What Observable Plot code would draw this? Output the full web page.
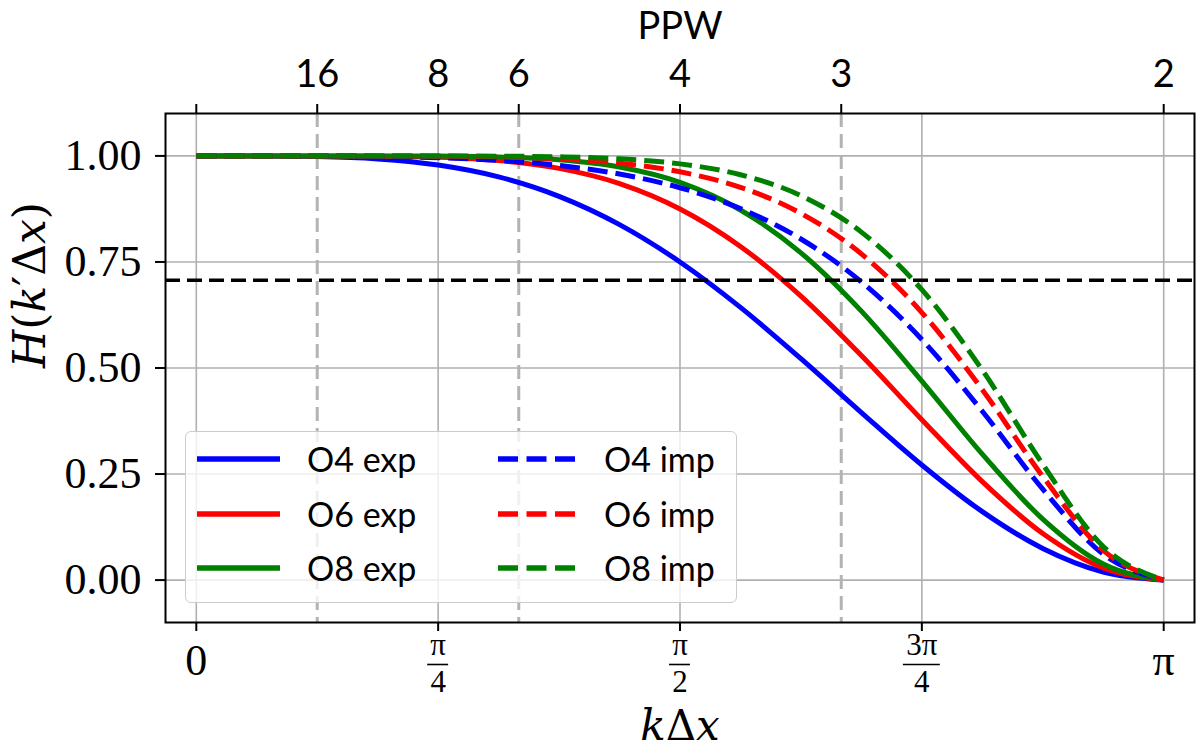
<!DOCTYPE html>
<html>
<head>
<meta charset="utf-8">
<script src="https://cdn.jsdelivr.net/npm/d3@7"></script>
<script src="https://cdn.jsdelivr.net/npm/@observablehq/plot@0.6"></script>
<style>
  html, body { margin: 0; padding: 0; background: #fff; }
  #wrap { position: relative; width: 1200px; height: 751px; }
</style>
</head>
<body>
<div id="wrap"></div>
<script>
// ---------- data ----------
const kValues = [0, 0.19635, 0.39270, 0.58905, 0.78540, 0.98175, 1.17810, 1.37445, 1.57080,
                 1.76715, 1.96350, 2.15984, 2.35619, 2.55254, 2.74889, 2.94524, 3.14159];

const hO4exp = [1, 0.99991, 0.99855, 0.99290, 0.97855, 0.95062, 0.90473, 0.83803, 0.75,
                0.64294, 0.52205, 0.39505, 0.27145, 0.16143, 0.07467, 0.01912, 0];
const hO6exp = [1, 1.0, 0.99994, 0.99940, 0.99686, 0.98903, 0.97059, 0.93481, 0.875,
                0.78664, 0.66957, 0.52948, 0.37814, 0.23209, 0.10989, 0.02855, 0];
const hO8exp = [1, 1.0, 1.0, 0.99995, 0.99954, 0.99756, 0.99092, 0.97377, 0.9375,
                0.87251, 0.77156, 0.63404, 0.46921, 0.29680, 0.14377, 0.03788, 0];
const hO4imp = [1, 0.99998, 0.99974, 0.99865, 0.99570, 0.98934, 0.97746, 0.95725, 0.925,
                0.87594, 0.80415, 0.70302, 0.56722, 0.39811, 0.21423, 0.06121, 0];
const hO6imp = [1, 1.0, 0.99999, 0.99989, 0.99937, 0.99763, 0.99304, 0.98279, 0.9625,
                0.92587, 0.86460, 0.76901, 0.63060, 0.44883, 0.24414, 0.07023, 0];
const hO8imp = [1, 1.0, 1.0, 0.99999, 0.99991, 0.99947, 0.99785, 0.99308, 0.98125,
                0.95570, 0.90640, 0.82034, 0.68469, 0.49528, 0.27291, 0.07917, 0];

const seriesNames  = ["O4 exp", "O6 exp", "O8 exp", "O4 imp", "O6 imp", "O8 imp"];
const seriesColors = ["#0000ff", "#ff0000", "#008000", "#0000ff", "#ff0000", "#008000"];
const seriesDashed = [false, false, false, true, true, true];
const seriesValues = [hO4exp, hO6exp, hO8exp, hO4imp, hO6imp, hO8imp];

const cutoff = [0.7071];                 // horizontal black dashed line
const ppwDashed = [16, 6, 3];            // vertical gray dashed lines (PPW)
const ppwTicks = [Infinity, 16, 8, 6, 4, 3, 2];
const ppwTickLabels = ["", "16", "8", "6", "4", "3", "2"];

const xTickValues = [0, Math.PI / 4, Math.PI / 2, 3 * Math.PI / 4, Math.PI];
const xTickNumer = ["0", "π", "π", "3π", "π"];
const xTickDenom = ["", "4", "2", "4", ""];
const yTickValues = [0, 0.25, 0.5, 0.75, 1.0];

// ---------- build tables ----------
const seriesData = seriesValues.map((vals, i) =>
  kValues.map((k, j) => ({k, h: vals[j], series: seriesNames[i]})));
const xTicksTable = xTickValues.map((k, i) => ({k, num: xTickNumer[i], den: xTickDenom[i]}));
const xSingles = xTicksTable.filter(d => d.den === "");
const xFracs = xTicksTable.filter(d => d.den !== "");
const ppwTable = ppwTicks.map((p, i) => ({k: 2 * Math.PI / p, label: ppwTickLabels[i]}));

const serif = "'Liberation Serif', serif";
const mathSerif = "'DejaVu Serif', serif";
const sans = "Lato, 'Noto Sans', sans-serif";
const yDomain = [-0.1, 1.1];

const lineMarks = seriesData.map((data, i) =>
  Plot.line(data, {
    x: "k", y: "h",
    stroke: seriesColors[i],
    strokeWidth: 5,
    strokeDasharray: seriesDashed[i] ? "20,8" : undefined,
    strokeLinecap: "butt",
    curve: "monotone-x"
  }));

const plot = Plot.plot({
  width: 1200,
  height: 751,
  marginLeft: 165,
  marginRight: 6,
  marginTop: 113,
  marginBottom: 129,
  style: {background: "white", overflow: "visible", fontFamily: serif},
  x: {domain: [-0.1, Math.PI + 0.1]},
  y: {domain: yDomain},
  marks: [
    Plot.gridX({ticks: xTickValues, stroke: "#b0b0b0", strokeOpacity: 1, strokeWidth: 1.6}),
    Plot.gridY({ticks: yTickValues, stroke: "#b0b0b0", strokeOpacity: 1, strokeWidth: 1.6}),
    Plot.ruleX(ppwDashed, {x: p => 2 * Math.PI / p, stroke: "#b3b3b3", strokeWidth: 3, strokeDasharray: "14,7"}),
    ...lineMarks,
    Plot.ruleY(cutoff, {stroke: "black", strokeWidth: 3.5, strokeDasharray: "15,7"}),
    Plot.frame({stroke: "black", strokeWidth: 2}),
    // y axis
    Plot.axisY({ticks: yTickValues, tickFormat: d3.format(".2f"), tickSize: 10, tickPadding: 14,
                strokeWidth: 2, fontSize: 44, fontFamily: serif, label: null}),
    // bottom x axis ticks
    Plot.axisX({anchor: "bottom", ticks: xTickValues, tickFormat: () => "", tickSize: 9,
                strokeWidth: 2, label: null}),
    Plot.text(xSingles, {x: "k", text: "num", frameAnchor: "bottom", lineAnchor: "middle", dy: 38,
                         fontSize: 44, fontFamily: serif}),
    Plot.text(xFracs, {x: "k", text: "num", frameAnchor: "bottom", lineAnchor: "middle", dy: 23,
                       fontSize: 31, fontFamily: serif}),
    Plot.text(xFracs, {x: "k", text: "den", frameAnchor: "bottom", lineAnchor: "middle", dy: 60,
                       fontSize: 31, fontFamily: serif}),
    Plot.ruleY(xFracs, {y: yDomain[0], dy: 42,
                        x1: d => d.k - (d.num.length > 1 ? 0.06 : 0.034),
                        x2: d => d.k + (d.num.length > 1 ? 0.06 : 0.034),
                        stroke: "black", strokeWidth: 1.6}),
    // top PPW axis
    Plot.axisX(ppwTable.map(d => d.k), {anchor: "top", tickSize: 10, tickPadding: 17, strokeWidth: 2,
                tickFormat: (k, i) => ppwTable[i].label, fontSize: 38, fontFamily: sans, label: null}),
    Plot.text(["PPW"], {text: d => d, frameAnchor: "top", lineAnchor: "middle", dy: -87,
                        fontSize: 38, fontFamily: sans}),
    // axis labels
    Plot.text(["H(k′Δx)"], {text: d => d, frameAnchor: "left", lineAnchor: "middle", dx: -135, rotate: -90,
                             fontSize: 44, fontFamily: mathSerif}),
    Plot.text(["kΔx"], {text: d => d, frameAnchor: "bottom", lineAnchor: "middle", dy: 104,
                        fontSize: 42, fontFamily: mathSerif})
  ]
});

document.getElementById("wrap").appendChild(plot);

// mixed italic / upright math labels
function mathify(content, parts) {
  d3.select(plot).selectAll("text")
    .filter(function () { return this.textContent === content; })
    .each(function () {
      const t = d3.select(this);
      t.text(null);
      parts.forEach(([s, it]) => t.append("tspan")
        .style("font-style", it ? "italic" : "normal")
        .text(s));
    });
}
mathify("H(k′Δx)", [["H", 1], ["(", 0], ["k", 1], ["′", 0], ["Δ", 0], ["x", 1], [")", 0]]);
mathify("kΔx", [["k", 1], ["Δ", 0], ["x", 1]]);

// ---------- legend overlay ----------
const legend = d3.select("#wrap").append("div")
  .style("position", "absolute").style("left", "185px").style("top", "431px")
  .style("width", "552px").style("height", "172px")
  .style("box-sizing", "border-box")
  .style("background", "rgba(255,255,255,0.8)")
  .style("border", "1.5px solid #cccccc").style("border-radius", "6px");
const lsvg = legend.append("svg").attr("width", 552).attr("height", 172)
  .style("position", "absolute").style("left", "-1.5px").style("top", "-1.5px");
const rowY = [28, 83, 137];
const colX = [12, 313];
const textX = [122, 419];
seriesNames.forEach((name, i) => {
  const col = Math.floor(i / 3), row = i % 3;
  lsvg.append("line")
    .attr("x1", colX[col]).attr("x2", colX[col] + (seriesDashed[i] ? 77 : 83))
    .attr("y1", rowY[row]).attr("y2", rowY[row])
    .attr("stroke", seriesColors[i]).attr("stroke-width", 5.5)
    .attr("stroke-dasharray", seriesDashed[i] ? "20,8.5" : null);
  lsvg.append("text")
    .attr("x", textX[col]).attr("y", rowY[row] + 13)
    .attr("font-family", sans).attr("font-size", 34).attr("fill", "black")
    .text(name);
});
</script>
</body>
</html>
